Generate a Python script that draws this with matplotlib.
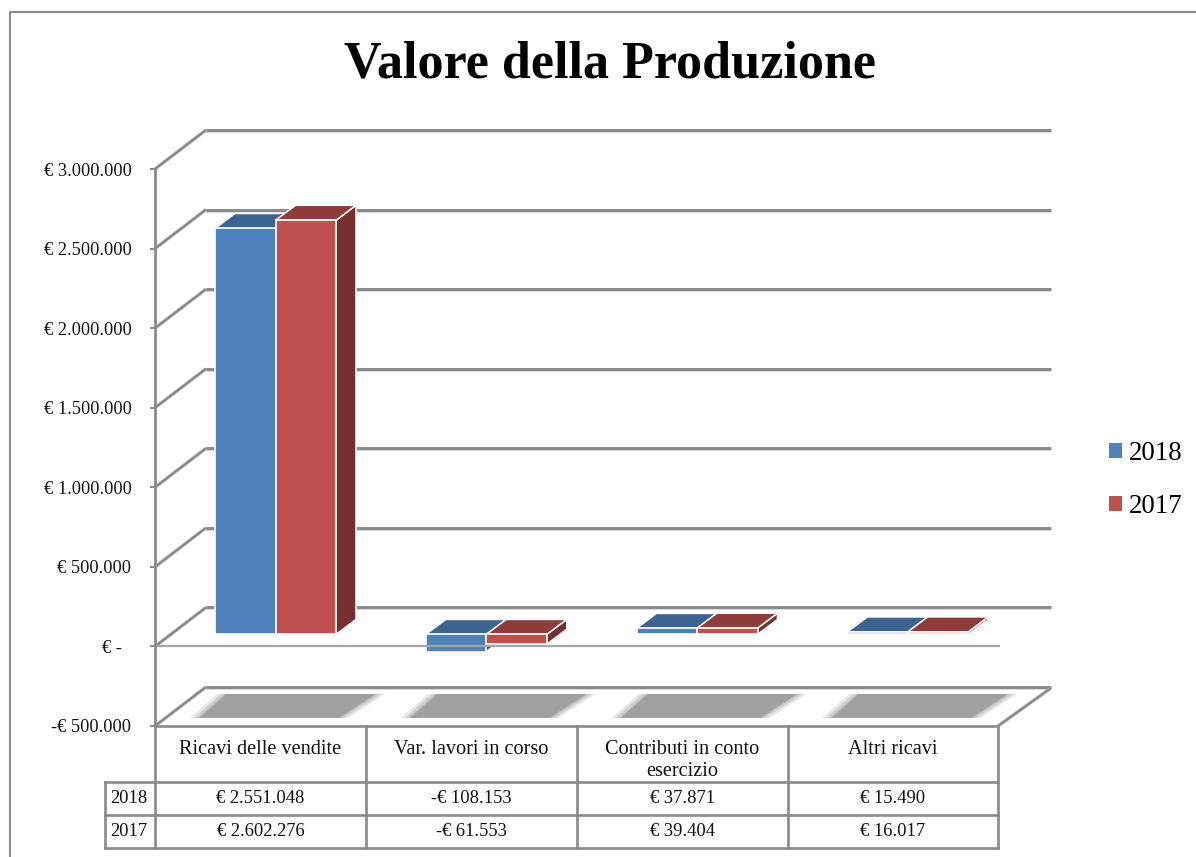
import matplotlib
matplotlib.use("Agg")
import matplotlib.pyplot as plt
from matplotlib.lines import Line2D
from matplotlib.patches import Patch

categories = ["Ricavi delle vendite", "Var. lavori in corso", "Contributi in conto\nesercizio", "Altri ricavi"]
series_names = ["2018", "2017"]
values_2018 = [2551048, -108153, 37871, 15490]
values_2017 = [2602276, -61553, 39404, 16017]
y_ticks = [-500000, 0, 500000, 1000000, 1500000, 2000000, 2500000, 3000000]

FRONT = ["#4f81bd", "#c0504d"]
TOP = ["#3d6491", "#8f3b39"]
SIDE = ["#345578", "#77302e"]
GRID = "#8a8a8a"
W, H = 1196, 857

plt.rcParams["font.family"] = ["Liberation Serif", "DejaVu Serif"]


def euro(v):
    if v == 0:
        return "€ -  "
    s = f"€ {abs(v):,}".replace(",", ".")
    return "-" + s if v < 0 else s


fig = plt.figure(figsize=(W / 100, H / 100), dpi=100)

# overlay in pixel coords for frame and table
ov = fig.add_axes([0, 0, 1, 1], zorder=5)
ov.set_xlim(0, W)
ov.set_ylim(H, 0)
ov.axis("off")
ov.patch.set_alpha(0)

ax = fig.add_axes([155 / W, (H - 726) / H, 843 / W, 557 / H], zorder=3)
ax.set_xlim(0, len(categories))
ax.set_ylim(y_ticks[0], y_ticks[-1])
ax.patch.set_alpha(0)
PX = len(categories) / 843
PY = (y_ticks[-1] - y_ticks[0]) / 557


def shift(x, y, dx, dy):
    # move a data point by screen pixels (dy up)
    return x + dx * PX, y + dy * PY


def line(x0, y0, x1, y1, lw=1.9, color=GRID, z=1):
    ax.plot([x0, x1], [y0, y1], color=color, lw=lw, zorder=z, clip_on=False, solid_capstyle="butt")


# walls: gridlines at the back, diagonals on the side
for v in y_ticks:
    xa, ya = shift(0, v, 51, 39)
    xb, yb = shift(len(categories), v, 53, 39)
    line(xa, ya - 1.0 * PY, xb, yb - 1.0 * PY, lw=2.6, color="#cfcfcf", z=1)
    line(xa, ya, xb, yb, lw=2.1, z=1.1)
    line(0, v, xa, ya, lw=2.4, color="#a8a8a8", z=1.2)
    line(0, v, xa, ya, lw=0.9, color="#7c7c7c", z=1.3)
x_end, y_end = shift(len(categories), y_ticks[0], 53, 38)
line(len(categories), y_ticks[0], x_end, y_end, lw=2.4, color="#a8a8a8", z=1.2)
line(len(categories), y_ticks[0], x_end, y_end, lw=0.9, color="#7c7c7c", z=1.3)

# floor shadows
for i in range(len(categories)):
    y0 = y_ticks[0] + 8 * PY
    y1 = y_ticks[0] + 32 * PY
    for grow, a in [(10, 0.25), (6, 0.35), (2, 0.6), (0, 1)]:
        xs = [i + (45 - grow) * PX, i + (183 + grow) * PX, i + (220 + grow) * PX, i + (72 - grow) * PX]
        ax.fill(xs, [y0, y0, y1, y1], color="#a0a0a0", alpha=a, lw=0, zorder=1.5, clip_on=False)

# 3d bars
bar_w = 60.5 * PX
base = 12 * PY
for s, vals in enumerate([values_2018, values_2017]):
    for i, v in enumerate(vals):
        x0 = i + (60 + s * 60.5) * PX
        x1 = x0 + bar_w
        y_top = base + max(v, 0)
        y_low = base + min(v, 0)
        z = 2 + s + i * 0.01
        ex = 20 * PX
        ey = 15 * PY
        # side
        ax.fill([x1, x1 + ex, x1 + ex, x1], [y_low, y_low + ey, y_top + ey, y_top],
                facecolor=SIDE[s], edgecolor="white", lw=1.1, zorder=z, clip_on=False)
        # top
        ax.fill([x0, x0 + ex, x1 + ex, x1], [y_top, y_top + ey, y_top + ey, y_top],
                facecolor=TOP[s], edgecolor="white", lw=1.1, zorder=z, clip_on=False)
        # front
        ax.bar(x0, y_top - y_low, bottom=y_low, width=bar_w, align="edge", color=FRONT[s],
               edgecolor="white", lw=1.2, zorder=z + 0.1, clip_on=False)

# front line of the zero plane
line(0, 0, len(categories) + 2 * PX, 0, lw=1.6, color="#a6a6a6", z=4)

ax.set_xticks([])
ax.set_yticks(y_ticks)
ax.set_yticklabels([euro(v) for v in y_ticks], fontsize=13.2, color="#111111")
ax.tick_params(axis="y", length=3.8, width=1.4, color=GRID, pad=13.2)
for name in ["top", "right", "bottom"]:
    ax.spines[name].set_visible(False)
ax.spines["left"].set_color(GRID)
ax.spines["left"].set_linewidth(2.0)
ax.spines["left"].set_zorder(4)

# data table under the plot
col_x = [155, 366, 577, 788, 998]
rows_y = [726, 782, 815, 848]
head_x = 105
tbl = {"color": GRID, "lw": 1.9, "solid_capstyle": "projecting"}
ov.plot([155, 998], [726, 726], **tbl)
for y in rows_y[1:]:
    ov.plot([head_x, 998], [y, y], **tbl)
for x in col_x:
    ov.plot([x, x], [726, 848], **tbl)
ov.plot([head_x, head_x], [782, 848], **tbl)

for i, c in enumerate(categories):
    cx = (col_x[i] + col_x[i + 1]) / 2
    ov.text(cx, 740, c, ha="center", va="top", fontsize=14.6, color="#111111", linespacing=1.2)
    for r, vals in enumerate([values_2018, values_2017]):
        ov.text(cx, (rows_y[r + 1] + rows_y[r + 2]) / 2, euro(vals[i]), ha="center", va="center",
                fontsize=13.3, color="#111111")
for r, name in enumerate(series_names):
    ov.text(128.5, (rows_y[r + 1] + rows_y[r + 2]) / 2, name, ha="center", va="center", fontsize=13.3, color="#111111")

# outer frame, no right or bottom edge
ov.add_line(Line2D([9.5, 9.5, W], [H, 12, 12], color="#8c8c8c", lw=1.5))

fig.text(610 / W, (H - 65) / H, "Valore della Produzione", ha="center", va="center",
         fontsize=37.5, fontweight="bold", color="black")

handles = [Patch(facecolor=FRONT[0], label=series_names[0]), Patch(facecolor=FRONT[1], label=series_names[1])]
fig.legend(handles=handles, loc="center left", bbox_to_anchor=(1109 / W, (H - 480) / H), frameon=False,
           fontsize=19.4, handlelength=0.48, handleheight=0.48, handletextpad=0.27, labelspacing=1.03,
           borderpad=0, borderaxespad=0)

fig.savefig("out.png", dpi=100)
